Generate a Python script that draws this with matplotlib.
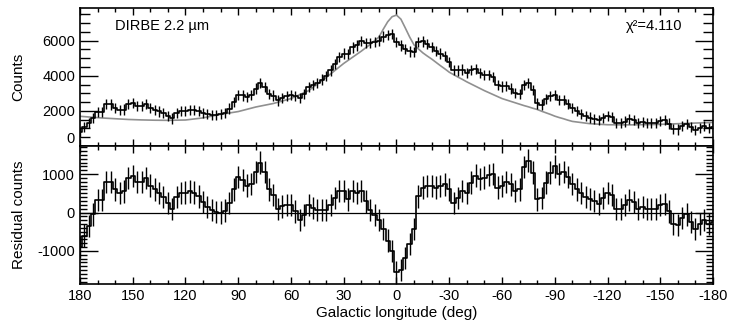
import numpy as np
import matplotlib
matplotlib.use("Agg")
import matplotlib.pyplot as plt
from matplotlib.ticker import MultipleLocator, FixedLocator

plt.rcParams['font.family'] = ['Liberation Sans', 'DejaVu Sans']
plt.rcParams['font.size'] = 10.5
plt.rcParams['axes.unicode_minus'] = False

# Galactic longitude bin centres (2.5 deg bins), 180 -> -180
lon = np.arange(180, -180.1, -2.5)

# DIRBE 2.2 micron counts per bin
counts = np.array([
    790, 1070, 1300, 1580, 1940, 1925, 2380, 2365, 2150, 2040,      # 180 .. 157.5
    2075, 2410, 2450, 2290, 2285, 2378, 2170, 2068, 1965, 1862,     # 155 .. 132.5
    1710, 1565, 1870, 1975, 2000, 2060, 2060, 1990, 1880, 1800,     # 130 .. 107.5
    1760, 1770, 1800, 1890, 2130, 2520, 2890, 2875, 2790, 2905,     # 105 .. 82.5
    3270, 3570, 3370, 2970, 2870, 2590, 2720, 2830, 2900, 2840,     # 80 .. 57.5
    2725, 2980, 3350, 3450, 3595, 3780, 3970, 4300, 4680, 5060,     # 55 .. 32.5
    5260, 5215, 5610, 5725, 5960, 5880, 5850, 5930, 6000, 6230,     # 30 .. 7.5
    6340, 6360, 5900, 5720, 5540, 5380, 5330, 5940, 5950, 5810,     # 5 .. -17.5
    5640, 5410, 5260, 5120, 4800, 4310, 4300, 4350, 4150, 4305,     # -20 .. -42.5
    4360, 4145, 4060, 4020, 3925, 3460, 3390, 3420, 3270, 3020,     # -45 .. -67.5
    2980, 3480, 3580, 3190, 2420, 2360, 2670, 2840, 2900, 2620,     # -70 .. -92.5
    2610, 2400, 2150, 1970, 1835, 1700, 1620, 1555, 1470, 1595,     # -95 .. -117.5
    1710, 1658, 1305, 1302, 1390, 1522, 1485, 1308, 1360, 1315,     # -120 .. -142.5
    1320, 1325, 1420, 1470, 1280, 960, 940, 1130, 1240, 1060,       # -145 .. -167.5
    890, 1018, 1125, 1043, 1090,                                    # -170 .. -180
])

# best-fit model evaluated at the same bin centres
model = np.array([
    1690, 1670, 1650, 1630, 1610, 1595, 1580, 1565, 1550, 1540,
    1525, 1510, 1500, 1490, 1485, 1478, 1470, 1468, 1465, 1462,
    1460, 1465, 1470, 1475, 1480, 1510, 1540, 1570, 1600, 1650,
    1700, 1750, 1800, 1840, 1880, 1920, 1960, 2025, 2090, 2155,
    2220, 2270, 2320, 2370, 2420, 2490, 2560, 2630, 2700, 2810,
    2925, 3040, 3150, 3340, 3525, 3710, 3900, 4100, 4300, 4500,
    4700, 4875, 5050, 5225, 5400, 5590, 5780, 5990, 6200, 6650,
    7070, 7360, 7450, 7220, 6720, 6200, 5750, 5520, 5300, 5120,
    4950, 4760, 4570, 4390, 4200, 4060, 3920, 3790, 3650, 3525,
    3400, 3275, 3150, 3040, 2925, 2810, 2700, 2620, 2540, 2460,
    2380, 2300, 2230, 2150, 2080, 1980, 1890, 1800, 1700, 1620,
    1550, 1470, 1400, 1370, 1335, 1300, 1270, 1255, 1240, 1225,
    1210, 1208, 1205, 1202, 1200, 1202, 1205, 1208, 1210, 1215,
    1220, 1225, 1230, 1240, 1250, 1260, 1270, 1280, 1290, 1300,
    1310, 1318, 1325, 1333, 1340,
])

# residual counts (data - model)
resid = np.array([
    -900, -600, -350, -50, 330, 330, 800, 800, 600, 500,
    550, 900, 950, 800, 800, 900, 700, 600, 500, 400,
    250, 100, 400, 500, 520, 550, 520, 420, 280, 150,
    60, 20, 0, 50, 250, 600, 930, 850, 700, 750,
    1050, 1300, 1050, 600, 450, 100, 160, 200, 200, 30,
    -200, -60, 200, 110, 70, 70, 70, 200, 380, 560,
    560, 340, 560, 500, 560, 290, 70, -60, -200, -420,
    -730, -1000, -1550, -1500, -1180, -820, -420, 420, 650, 690,
    690, 650, 690, 730, 600, 250, 380, 560, 500, 780,
    960, 870, 910, 980, 1000, 650, 690, 800, 730, 560,
    600, 1180, 1350, 1040, 340, 380, 780, 1040, 1200, 1000,
    1060, 930, 750, 600, 500, 400, 350, 300, 230, 370,
    500, 450, 100, 100, 190, 320, 280, 100, 150, 100,
    100, 100, 190, 230, 30, -300, -330, -150, -50, -240,
    -420, -300, -200, -290, -250,
])

err = 290  # 1-sigma uncertainty per bin

fig = plt.figure(figsize=(7.31, 3.23), dpi=100)
ax1 = fig.add_axes([0.1094, 0.548, 0.866, 0.427])
ax2 = fig.add_axes([0.1094, 0.1207, 0.866, 0.4273])

# top: counts with model
ax1.plot(lon, model, color='#909090', lw=1.2, zorder=2)
ax1.step(lon, counts, where='mid', color='k', lw=1.2, zorder=3)
ax1.errorbar(lon, counts, yerr=err, fmt='none', ecolor='k', elinewidth=1.0, zorder=3)
ax1.set_ylim(0, 7850)
ax1.set_ylabel('Counts', fontsize=11)
ax1.yaxis.set_major_locator(FixedLocator([0, 2000, 4000, 6000]))
ax1.yaxis.set_minor_locator(MultipleLocator(500))
ax1.text(0.055, 0.87, 'DIRBE 2.2 µm', transform=ax1.transAxes, ha='left', va='center')
ax1.text(0.952, 0.87, 'χ²=4.110', transform=ax1.transAxes, ha='right', va='center')

# bottom: residuals
ax2.axhline(0, color='k', lw=0.9, zorder=1)
ax2.step(lon, resid, where='mid', color='k', lw=1.2, zorder=3)
ax2.errorbar(lon, resid, yerr=err, fmt='none', ecolor='k', elinewidth=1.0, zorder=3)
ax2.set_ylim(-1860, 1730)
ax2.set_ylabel('Residual counts', fontsize=11)
ax2.yaxis.set_major_locator(FixedLocator([-1000, 0, 1000]))
ax2.yaxis.set_minor_locator(MultipleLocator(100))
ax2.set_xlabel('Galactic longitude (deg)', fontsize=11, labelpad=2)

for ax in (ax1, ax2):
    ax.set_xlim(180, -180)
    ax.xaxis.set_major_locator(MultipleLocator(30))
    ax.xaxis.set_minor_locator(MultipleLocator(10))
    ax.tick_params(which='both', direction='in', top=True, right=True, width=1.0)
    ax.tick_params(axis='x', which='major', length=5)
    ax.tick_params(axis='x', which='minor', length=3)
    ax.tick_params(axis='y', which='major', length=13)
    ax.tick_params(axis='y', which='minor', length=6)
    ax.yaxis.set_label_coords(-0.086, 0.5)
    for s in ax.spines.values():
        s.set_linewidth(1.2)

ax1.tick_params(axis='x', labelbottom=False)
ax1.tick_params(axis='y', which='minor', length=7)
ax2.tick_params(axis='y', which='minor', length=5)
ax2.set_xticks(np.arange(180, -181, -30))
ax2.set_xticklabels(['180', '150', '120', '90', '60', '30', '0',
                     '-30', '-60', '-90', '-120', '-150', '-180'])

# lift the "0" on the counts axis clear of the panel boundary
fig.canvas.draw()
ax1.get_yticklabels()[0].set_va('bottom')

fig.savefig('out.png', dpi=100)
